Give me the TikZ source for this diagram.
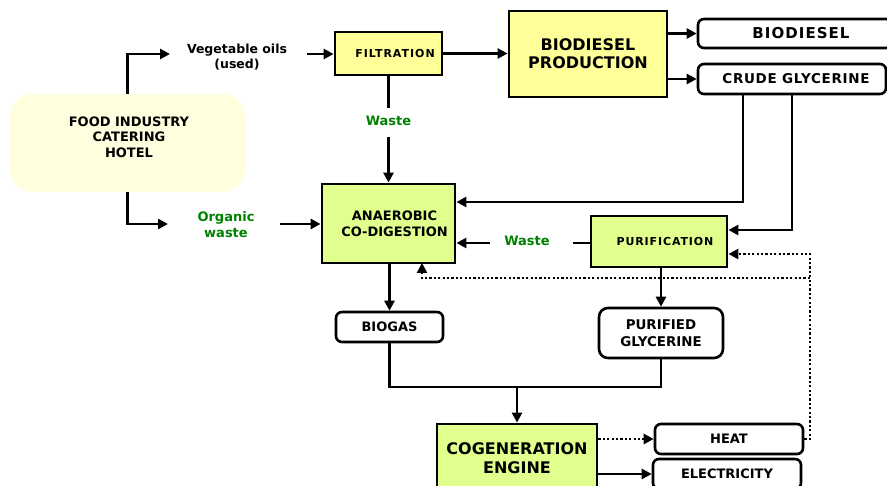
\documentclass[tikz,border=0pt]{standalone}
\usepackage{fontspec}
\setmainfont{DejaVu Sans}
\usetikzlibrary{arrows.meta}
\definecolor{yel}{RGB}{255,255,153}
\definecolor{grn}{RGB}{224,255,140}
\definecolor{cream}{RGB}{255,255,224}
\definecolor{wgreen}{RGB}{0,128,0}
\begin{document}
\begin{tikzpicture}[x=1pt,y=-1pt,
  every node/.style={align=center, inner sep=0pt},
  sq/.style={draw, line width=2.8pt, fill=yel},
  gbox/.style={draw, line width=2.8pt, fill=grn},
  rbox/.style={draw, line width=2.6pt, fill=white, rounded corners=6pt},
  conn/.style={line width=2.6pt},
  arr/.style={line width=2.6pt, -{Triangle[length=10pt,width=10pt]}},
  dots/.style={line width=2.4pt, dash pattern=on 2.2pt off 2.2pt},
  lbl/.style={text=wgreen},
]
\useasboundingbox (0,0) rectangle (887,486);
% nodes
\node[fill=cream, rounded corners=22pt, minimum width=235pt, minimum height=98pt] (food) at (127.5,143) {};
\node[font=\bfseries\fontsize{13}{15.5}\selectfont] (foodtxt) at (129,137) {FOOD INDUSTRY\\CATERING\\HOTEL};
\node[font=\bfseries\fontsize{12.5}{15}\selectfont] (veg) at (237,57) {Vegetable oils\\(used)};
\node[sq, minimum width=107pt, minimum height=43pt, font=\bfseries\fontsize{11}{13}\selectfont\addfontfeatures{LetterSpace=9}] (filt) at (388.5,53.5) {\hspace*{13pt}FILTRATION};
\node[sq, minimum width=158pt, minimum height=86pt, font=\bfseries\fontsize{16}{18}\selectfont] (bprod) at (588,54) {BIODIESEL\\PRODUCTION};
\node[rbox, minimum width=194pt, minimum height=29pt, font=\bfseries\fontsize{15}{17}\selectfont\addfontfeatures{LetterSpace=7}] (biodiesel) at (795,33.5) {\hspace*{12pt}BIODIESEL};
\node[rbox, minimum width=188pt, minimum height=30pt, font=\bfseries\fontsize{13.5}{16}\selectfont\addfontfeatures{LetterSpace=5}] (crude) at (792,79) {\hspace*{8pt}CRUDE GLYCERINE};
\node[lbl, font=\bfseries\fontsize{13}{15}\selectfont] (waste1) at (388.5,121) {Waste};
\node[gbox, minimum width=133pt, minimum height=79pt, font=\bfseries\fontsize{13}{16}\selectfont] (anaer) at (388.5,223.5) {\hspace*{12pt}ANAEROBIC\\\hspace*{12pt}CO-DIGESTION};
\node[lbl, font=\bfseries\fontsize{13}{16}\selectfont] (org) at (226,225) {Organic\\waste};
\node[gbox, minimum width=136pt, minimum height=51pt, font=\bfseries\fontsize{11}{13}\selectfont\addfontfeatures{LetterSpace=8}] (purif) at (659,241.5) {\hspace*{12pt}PURIFICATION};
\node[lbl, font=\bfseries\fontsize{13}{15}\selectfont] (waste2) at (527,241) {Waste};
\node[rbox, minimum width=107pt, minimum height=30pt, font=\bfseries\fontsize{13}{15}\selectfont] (biogas) at (389.5,327) {BIOGAS};
\node[rbox, rounded corners=9pt, minimum width=124pt, minimum height=50pt, font=\bfseries\fontsize{13.4}{17}\selectfont] (purgly) at (661,333) {PURIFIED\\GLYCERINE};
\node[gbox, minimum width=160pt, minimum height=68pt, font=\bfseries\fontsize{16}{19}\selectfont] (cogen) at (517,458) {COGENERATION\\ENGINE};
\node[rbox, minimum width=148pt, minimum height=30pt, font=\bfseries\fontsize{13}{15}\selectfont] (heat) at (729,439) {HEAT};
\node[rbox, minimum width=148pt, minimum height=30pt, font=\bfseries\fontsize{13}{15}\selectfont] (elec) at (727,474) {ELECTRICITY};
% coordinates
\coordinate (vegL) at (170,54);
\coordinate (vegR) at (307,54);
\coordinate (orgL) at (168,224);
\coordinate (orgR) at (280,224);
\coordinate (w1a) at (388.5,108);
\coordinate (w1b) at (388.5,137);
\coordinate (w2a) at (573,243);
\coordinate (w2b) at (490,243);
\coordinate (g1) at (743,202);
\coordinate (g2) at (792,230);
\coordinate (j) at (517,387);
\coordinate (d1) at (810,254);
\coordinate (d2) at (810,278);
\coordinate (d3) at (422,263);
% connectors
\draw[arr] (food.north) |- (vegL);
\draw[arr] (vegR) -- (vegR -| filt.west);
\draw[arr] (filt.east) -- (filt.east -| bprod.west);
\draw[arr] (bprod.east |- biodiesel.west) -- (biodiesel.west);
\draw[arr] (bprod.east |- crude.west) -- (crude.west);
\draw[arr] (crude.south -| g1) |- (g1 -| anaer.east);
\draw[arr] (crude.south -| g2) |- (g2 -| purif.east);
\draw[conn] (filt.south) -- (w1a);
\draw[arr] (w1b) -- (anaer.north);
\draw[arr] (food.south) |- (orgL);
\draw[arr] (orgR) -- (orgR -| anaer.west);
\draw[conn] (purif.west |- w2a) -- (w2a);
\draw[arr] (w2b) -- (w2b -| anaer.east);
\draw[arr] (anaer.south -| biogas.north) -- (biogas.north);
\draw[arr] (purif.south -| purgly.north) -- (purgly.north);
\draw[conn] (biogas.south) |- (j) -| (purgly.south);
\draw[arr] (j) -- (cogen.north);
\draw[dots, arr] (cogen.east |- heat.west) -- (heat.west);
\draw[arr] (cogen.east |- elec.west) -- (elec.west);
\draw[dots, arr] (heat.east) -| (d1) -- (d1 -| purif.east);
\draw[dots, arr] (d2) -| (d3);
\end{tikzpicture}
\end{document}
